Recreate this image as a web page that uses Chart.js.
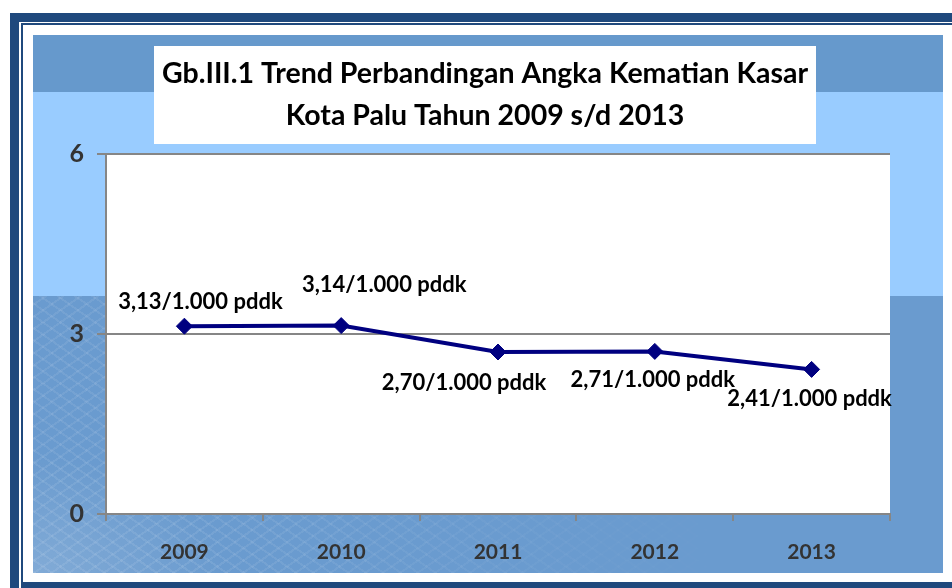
<!DOCTYPE html>
<html>
<head>
<meta charset="utf-8">
<script src="https://cdn.jsdelivr.net/npm/chart.js@4"></script>
<style>
  html, body { margin: 0; padding: 0; background: #fff; width: 952px; height: 588px; overflow: hidden; }
  .abs { position: absolute; }
  #outer { left: 10px; top: 13px; width: 1000px; height: 1000px; background: #1f497d; }
  #gap { left: 19px; top: 22px; width: 1000px; height: 1000px; background: #fff; }
  #line { left: 21px; top: 23px; width: 1000px; height: 1000px; background: #1f497d; }
  #inner { left: 23px; top: 25px; width: 1000px; height: 557px; background: #fff; }
  #bg {
    left: 33px; top: 35px; width: 910px; height: 538px;
    background:
      linear-gradient(to bottom, #6699cc 0, #6699cc 57px, #99ccff 57px, #99ccff 261px, transparent 261px),
      #6a9bcf;
  }
  #tex {
    left: 33px; top: 296px; width: 700px; height: 277px;
    background:
      radial-gradient(ellipse 260px 160px at 0% 100%, rgba(255,255,255,0.16), transparent 75%),
      repeating-linear-gradient(35deg, rgba(255,255,255,0.08) 0 2px, transparent 2px 10px),
      repeating-linear-gradient(-35deg, rgba(255,255,255,0.08) 0 2px, transparent 2px 10px);
    -webkit-mask-image: linear-gradient(to right, #000 30%, transparent 100%);
    mask-image: linear-gradient(to right, #000 30%, transparent 100%);
  }
  #wrap { left: 33px; top: 35px; width: 910px; height: 538px; }
</style>
</head>
<body>
<div id="outer" class="abs"></div>
<div id="gap" class="abs"></div>
<div id="line" class="abs"></div>
<div id="inner" class="abs"></div>
<div id="bg" class="abs"></div>
<div id="tex" class="abs"></div>
<div id="wrap" class="abs"><canvas id="c" width="910" height="538"></canvas></div>
<script>
  // ---- data ----
  const titleLines = [
    "Gb.III.1 Trend Perbandingan Angka Kematian Kasar",
    "Kota Palu Tahun 2009 s/d 2013",
  ];
  const years = ["2009", "2010", "2011", "2012", "2013"];
  const rates = [3.13, 3.14, 2.70, 2.71, 2.41];
  const yTicks = [0, 3, 6];
  const unitText = "/1.000 pddk";

  // label placement relative to each point (px), like the Excel layout
  const labelOffsets = [
    { dx: 16, dy: -17 },
    { dx: 43, dy: -34 },
    { dx: -34, dy: 38 },
    { dx: -2, dy: 36 },
    { dx: -2, dy: 37 },
  ];

  const FONT = "Lato, 'Open Sans', sans-serif";
  const NAVY = "#000080";
  const AXIS = "#868686";
  const TICK_TEXT = "#333333";

  const fmt = (v) => v.toFixed(2).replace(".", ",") + unitText;

  const plotBg = {
    id: "plotBg",
    beforeDraw(chart) {
      const { ctx, chartArea: a } = chart;
      ctx.save();
      ctx.fillStyle = "#ffffff";
      ctx.fillRect(a.left, a.top, a.right - a.left, a.bottom - a.top);
      ctx.restore();
    },
  };

  const titleBox = {
    id: "titleBox",
    afterDraw(chart) {
      const ctx = chart.ctx;
      const cx = 452;
      ctx.save();
      ctx.fillStyle = "#ffffff";
      ctx.fillRect(cx - 331, 11, 662, 98);
      ctx.fillStyle = "#000";
      ctx.font = "bold 28.5px " + FONT;
      ctx.textAlign = "center";
      ctx.textBaseline = "middle";
      titleLines.forEach((t, i) => ctx.fillText(t, cx, 39 + i * 42));
      ctx.restore();
    },
  };

  const pointLabels = {
    id: "pointLabels",
    afterDatasetsDraw(chart) {
      const ctx = chart.ctx;
      const meta = chart.getDatasetMeta(0);
      ctx.save();
      ctx.fillStyle = "#000";
      ctx.font = "bold 22px " + FONT;
      ctx.textAlign = "center";
      ctx.textBaseline = "alphabetic";
      meta.data.forEach((pt, i) => {
        const o = labelOffsets[i];
        ctx.fillText(fmt(rates[i]), pt.x + o.dx, pt.y + o.dy);
      });
      ctx.restore();
    },
  };

  new Chart(document.getElementById("c"), {
    type: "line",
    data: {
      labels: years,
      datasets: [{
        data: rates,
        borderColor: NAVY,
        borderWidth: 4,
        tension: 0,
        pointStyle: "rectRot",
        pointRadius: 8,
        pointBackgroundColor: NAVY,
        pointBorderColor: NAVY,
        pointBorderWidth: 1,
        fill: false,
      }],
    },
    options: {
      responsive: false,
      animation: false,
      events: [],
      layout: { padding: { top: 119, right: 53, left: 0, bottom: 0 } },
      plugins: {
        legend: { display: false },
        title: { display: false },
        tooltip: { enabled: false },
      },
      scales: {
        x: {
          offset: true,
          grid: { offset: true, drawOnChartArea: false, drawTicks: true, tickLength: 7, color: AXIS, lineWidth: 2 },
          border: { display: true, color: AXIS, width: 2 },
          ticks: { color: TICK_TEXT, font: { family: FONT, size: 21, weight: "bold" }, padding: 19, maxRotation: 0 },
          afterFit: (s) => { s.height = 59; },
        },
        y: {
          min: 0,
          max: 6,
          afterBuildTicks: (s) => { s.ticks = yTicks.map((v) => ({ value: v })); },
          grid: { color: AXIS, lineWidth: 2, tickLength: 9, drawTicks: true },
          border: { display: true, color: AXIS, width: 2 },
          ticks: { color: TICK_TEXT, font: { family: FONT, size: 25, weight: "bold" }, padding: 13 },
          afterFit: (s) => { s.width = 73; },
        },
      },
    },
    plugins: [plotBg, titleBox, pointLabels],
  });
</script>
</body>
</html>
